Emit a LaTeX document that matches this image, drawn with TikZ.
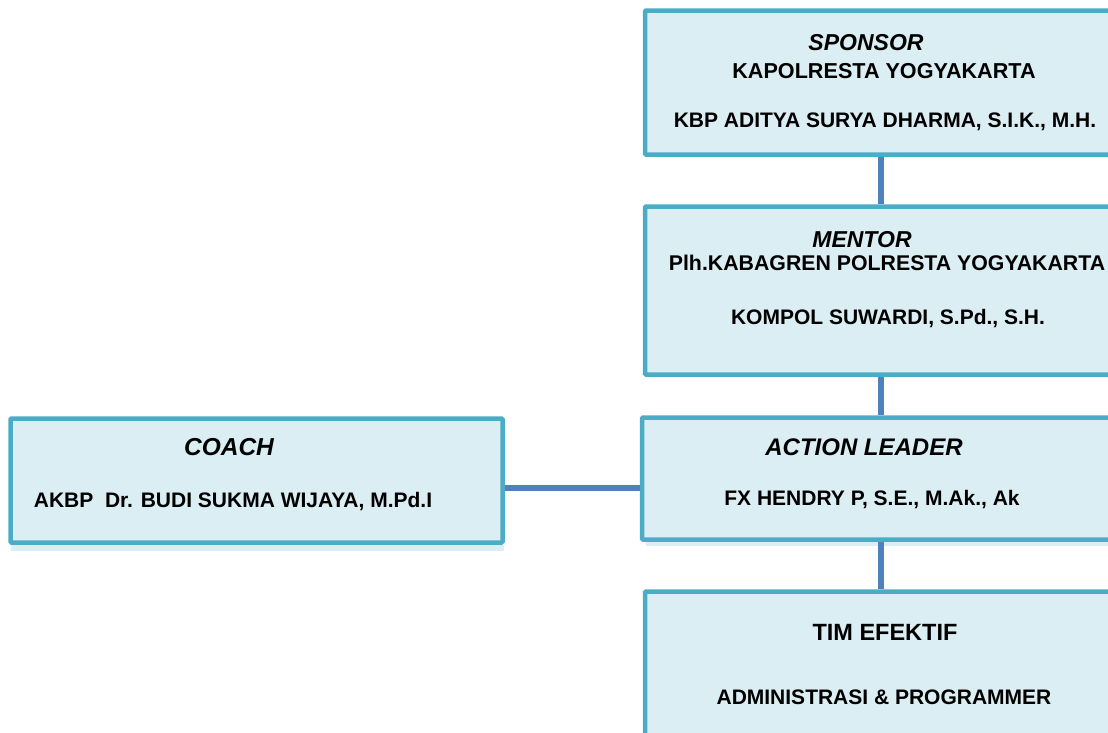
\documentclass[tikz,border=0pt]{standalone}
\usepackage{fontspec}
\setmainfont{Liberation Sans}
\definecolor{boxline}{HTML}{4BACC6}
\definecolor{boxfill}{HTML}{DBEEF3}
\definecolor{conn}{HTML}{4F81BD}
\begin{document}
\begin{tikzpicture}[x=1pt,y=1pt,
  box/.style={draw=boxline,fill=boxfill,line width=4.5pt,rectangle,rounded corners=1pt,inner sep=0pt},
  txt/.style={font=\bfseries\fontsize{21}{24}\selectfont,inner sep=0pt},
  ttl/.style={font=\bfseries\itshape\fontsize{23}{26}\selectfont,inner sep=0pt},
  link/.style={draw=conn,line width=5.5pt}]
\useasboundingbox (0,0) rectangle (1108,-732);
\clip (0,0) rectangle (1108,-732);
% shadows
\fill[boxfill] (11,-545) rectangle (504,-551);
\fill[boxfill] (646,-542) rectangle (1108,-546);
\node[box,minimum width=470pt,minimum height=144pt] (sponsor) at (880,-82.5) {};
\node[box,minimum width=470pt,minimum height=168pt] (mentor) at (880,-290.5) {};
\node[box,minimum width=473pt,minimum height=122pt] (leader) at (878.5,-478.5) {};
\node[box,minimum width=470pt,minimum height=160pt] (tim) at (880,-671.5) {};
\node[box,minimum width=492pt,minimum height=124pt] (coach) at (256.5,-480.5) {};
% connectors
\draw[link] (sponsor.south -| 881,0) -- (mentor.north -| 881,0);
\draw[link] (mentor.south -| 881,0) -- (leader.north -| 881,0);
\draw[link] (leader.south -| 881,0) -- (tim.north -| 881,0);
\draw[link] (coach.east |- 0,-488) -- (leader.west |- 0,-488);
% texts
\node[ttl] (t1) at (866,-43) {SPONSOR};
\node[txt,font=\bfseries\fontsize{21.6}{24}\selectfont] (t2) at (884,-71) {KAPOLRESTA YOGYAKARTA};
\node[txt] (t3) at (885,-122) {KBP ADITYA SURYA DHARMA, S.I.K., M.H.};
\node[ttl] (t4) at (862,-240) {MENTOR};
\node[txt,font=\bfseries\fontsize{21.3}{24}\selectfont] (t5) at (887,-263) {Plh.KABAGREN POLRESTA YOGYAKARTA};
\node[txt] (t6) at (888,-319) {KOMPOL SUWARDI, S.Pd., S.H.};
\node[ttl,font=\bfseries\itshape\fontsize{24}{27}\selectfont] (t7) at (864,-447) {ACTION LEADER};
\node[txt] (t8) at (872,-500) {FX HENDRY P, S.E., M.Ak., Ak};
\node[txt,font=\bfseries\fontsize{23.5}{26}\selectfont] (t9) at (885,-632) {TIM EFEKTIF};
\node[txt] (t10) at (884,-697) {ADMINISTRASI \& PROGRAMMER};
\node[ttl,font=\bfseries\itshape\fontsize{24.5}{27}\selectfont] (t11) at (229,-447) {COACH};
\node[txt] (t12) at (233,-502) {AKBP\ \ Dr. BUDI SUKMA WIJAYA, M.Pd.I};
\end{tikzpicture}
\end{document}
